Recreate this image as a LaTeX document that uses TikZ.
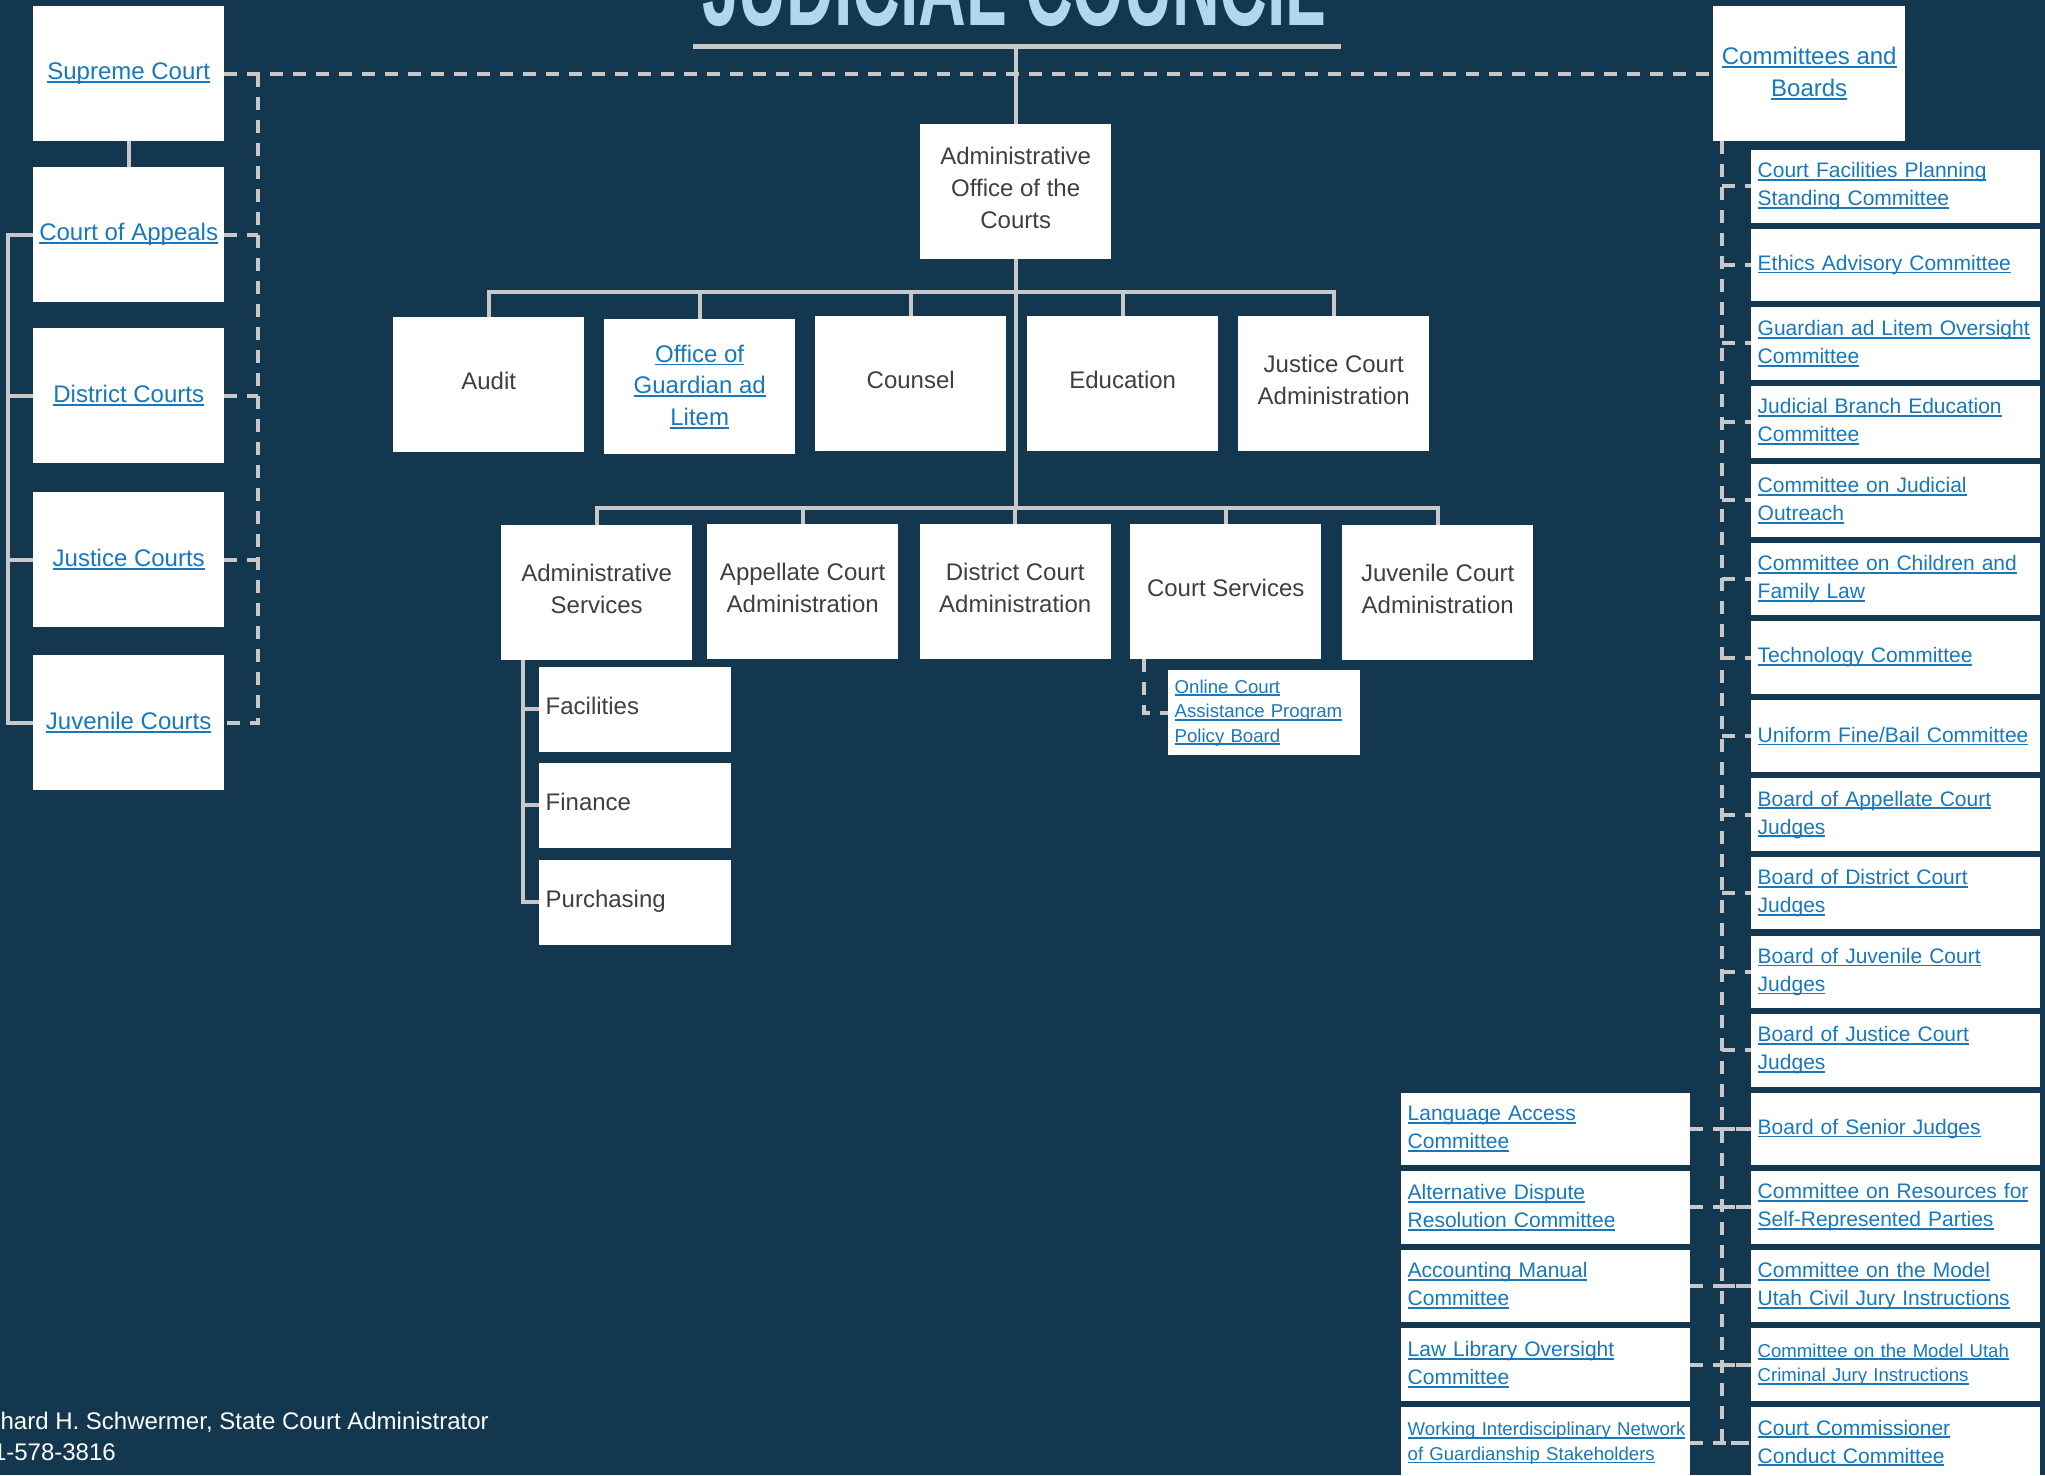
\documentclass[tikz,border=0pt]{standalone}
\usepackage{fontspec}
\setmainfont{Liberation Sans}
\usepackage{graphicx}
\definecolor{bg}{RGB}{18,55,79}
\definecolor{ln}{RGB}{200,200,200}
\definecolor{txt}{RGB}{58,64,72}
\definecolor{lnk}{RGB}{24,120,187}
\definecolor{ttl}{RGB}{178,214,238}
\newcommand\lk[1]{\leavevmode\setbox0=\hbox{#1}\rlap{\rule[-3.2pt]{\wd0}{1.8pt}}\box0}
\tikzset{
  wbox/.style={fill=white, inner sep=0pt, draw=none, anchor=north west},
  mbox/.style={wbox, minimum width=191pt, minimum height=135pt, align=center,
    font=\fontsize{24}{31.7}\selectfont, text=txt,
    execute at end node={\rule[-8pt]{0pt}{8pt}}},
  lbox/.style={wbox, minimum width=191pt, minimum height=135pt, align=center,
    font=\fontsize{24}{31.7}\selectfont, text=lnk,
    execute at end node={\rule[-3pt]{0pt}{3pt}}},
  cbox/.style={wbox, text width=276pt, inner xsep=6.5pt, inner ysep=0pt, minimum height=72.5pt,
    align=left, font=\fontsize{21}{28}\selectfont, text=lnk},
  csmall/.style={cbox, font=\fontsize{18.6}{24.5}\selectfont},
  sbox/.style={wbox, text width=179pt, inner xsep=6.5pt, inner ysep=0pt, minimum height=84.5pt,
    align=left, font=\fontsize{24}{31.7}\selectfont, text=txt,
    execute at end node={\rule[-8pt]{0pt}{8pt}}},
  sline/.style={draw=ln, line width=4pt},
  dline/.style={sline, dash pattern=on 13pt off 10pt},
}
\begin{document}
\begin{tikzpicture}[x=1pt,y=-1pt]
\fill[bg] (0,0) rectangle (2045,1475);
\useasboundingbox (0,0) rectangle (2045,1475);
\clip (0,0) rectangle (2045,1475);

% title
\node[anchor=base west, inner sep=0pt, text=ttl] (title) at (702,25)
  {\resizebox{624pt}{80pt}{\bfseries JUDICIAL COUNCIL}};
\coordinate (ul1) at (693,46);
\coordinate (ul2) at (1341,46);

% left column
\node[lbox] (sc)  at (33,6)   {\lk{Supreme Court}};
\node[lbox] (ca)  at (33,167) {\lk{Court of Appeals}};
\node[lbox] (dc)  at (33,328) {\lk{District Courts}};
\node[lbox] (jc)  at (33,492) {\lk{Justice Courts}};
\node[lbox] (juv) at (33,655) {\lk{Juvenile Courts}};

% AOC
\node[mbox] (aoc) at (920,124) {Administrative\\Office of the\\Courts};

% level 1
\node[mbox] (audit) at (393,317)  {Audit};
\node[lbox] (ogal)  at (604,319)  {\lk{Office of}\\\lk{Guardian ad}\\\lk{Litem}};
\node[mbox] (coun)  at (815,316)  {Counsel};
\node[mbox] (edu)   at (1027,316) {Education};
\node[mbox] (jca)   at (1238,316) {Justice Court\\Administration};

% level 2
\node[mbox] (as)   at (501,525)   {Administrative\\Services};
\node[mbox] (aca)  at (707,524)   {Appellate Court\\Administration};
\node[mbox] (dca)  at (919.5,524) {District Court\\Administration};
\node[mbox] (cs)   at (1130,524)  {Court Services};
\node[mbox] (jvca) at (1342,525)  {Juvenile Court\\Administration};

% admin services subs
\node[sbox] (fac) at (539,667) {Facilities};
\node[sbox] (fin) at (539,763) {Finance};
\node[sbox] (pur) at (539,860) {Purchasing};

% online court
\node[wbox, text width=179pt, inner xsep=6.5pt, inner ysep=0pt, minimum height=85pt, align=left,
  font=\fontsize{18.6}{24.5}\selectfont, text=lnk] (oc) at (1168,670)
  {\lk{Online Court}\\\lk{Assistance Program}\\\lk{Policy Board}};

% committees and boards
\node[lbox, minimum width=192pt] (cb) at (1713,6) {\lk{Committees and}\\\lk{Boards}};

\node[cbox] (r1)  at (1751,149.8)   {\lk{Court Facilities Planning}\\\lk{Standing Committee}};
\node[cbox] (r2)  at (1751,228.35)  {\lk{Ethics Advisory Committee}};
\node[cbox] (r3)  at (1751,306.9)   {\lk{Guardian ad Litem Oversight}\\\lk{Committee}};
\node[cbox] (r4)  at (1751,385.45)  {\lk{Judicial Branch Education}\\\lk{Committee}};
\node[cbox] (r5)  at (1751,464.0)   {\lk{Committee on Judicial}\\\lk{Outreach}};
\node[cbox] (r6)  at (1751,542.55)  {\lk{Committee on Children and}\\\lk{Family Law}};
\node[cbox] (r7)  at (1751,621.1)   {\lk{Technology Committee}};
\node[cbox] (r8)  at (1751,699.65)  {\lk{Uniform Fine/Bail Committee}};
\node[cbox] (r9)  at (1751,778.2)   {\lk{Board of Appellate Court}\\\lk{Judges}};
\node[cbox] (r10) at (1751,856.75)  {\lk{Board of District Court}\\\lk{Judges}};
\node[cbox] (r11) at (1751,935.3)   {\lk{Board of Juvenile Court}\\\lk{Judges}};
\node[cbox] (r12) at (1751,1013.85) {\lk{Board of Justice Court}\\\lk{Judges}};
\node[cbox] (r13) at (1751,1092.4)  {\lk{Board of Senior Judges}};
\node[cbox] (r14) at (1751,1170.95) {\lk{Committee on Resources for}\\\lk{Self-Represented Parties}};
\node[cbox] (r15) at (1751,1249.5)  {\lk{Committee on the Model}\\\lk{Utah Civil Jury Instructions}};
\node[csmall] (r16) at (1751,1328.05) {\lk{Committee on the Model Utah}\\\lk{Criminal Jury Instructions}};
\node[cbox] (r17) at (1751,1406.6)  {\lk{Court Commissioner}\\\lk{Conduct Committee}};

\node[cbox] (b13) at (1401,1092.4)  {\lk{Language Access}\\\lk{Committee}};
\node[cbox] (b14) at (1401,1170.95) {\lk{Alternative Dispute}\\\lk{Resolution Committee}};
\node[cbox] (b15) at (1401,1249.5)  {\lk{Accounting Manual}\\\lk{Committee}};
\node[cbox] (b16) at (1401,1328.05) {\lk{Law Library Oversight}\\\lk{Committee}};
\node[csmall] (b17) at (1401,1406.6) {\lk{Working Interdisciplinary Network}\\\lk{of Guardianship Stakeholders}};

% footer
\node[anchor=base east, inner sep=0pt, text=white, font=\fontsize{24}{24}\selectfont] (f1) at (489,1429)
  {Richard H. Schwermer, State Court Administrator};
\node[anchor=base east, inner sep=0pt, text=white, font=\fontsize{24}{24}\selectfont] (f2) at (116,1460)
  {801-578-3816};

% ---------- connectors ----------
\draw[sline, line width=5pt] (ul1) -- (ul2);
\draw[sline] (aoc.north) -- (aoc.north |- ul1);

\coordinate (bus1) at (0,292);
\coordinate (bus2) at (0,508);
\draw[sline] (aoc.south) -- (aoc.south |- bus2);
\draw[sline] (audit.north) |- (jca.north |- bus1) -- (jca.north);
\foreach \n in {ogal,coun,edu} \draw[sline] (\n.north) -- (\n.north |- bus1);
\draw[sline] (as.north) |- (jvca.north |- bus2) -- (jvca.north);
\foreach \n in {aca,dca,cs} \draw[sline] (\n.north) -- (\n.north |- bus2);

\coordinate (sx) at (523,0);
\draw[sline] (as.south -| sx) |- (pur.west);
\draw[sline] (fac.west -| sx) -- (fac.west);
\draw[sline] (fin.west -| sx) -- (fin.west);

\coordinate (ox) at (1144,0);
\draw[dline] (cs.south -| ox) |- (oc.west);

% left solid
\coordinate (lsx) at (8,0);
\draw[sline] (sc.south) -- (ca.north);
\draw[sline] (ca.west) -- (ca.west -| lsx) |- (juv.west);
\draw[sline] (dc.west) -- (dc.west -| lsx);
\draw[sline] (jc.west) -- (jc.west -| lsx);

% left dashed
\coordinate (lvx) at (258,0);
\draw[dline] (sc.east) -- (cb.west);
\draw[dline] (sc.east -| lvx) |- (juv.east);
\foreach \n in {ca,dc,jc} \draw[dline] (\n.east) -- (\n.east -| lvx);

% right dashed
\coordinate (rvx) at (1722,0);
\draw[dline] (cb.south -| rvx) |- (r17.west);
\foreach \i in {1,...,16} \draw[dline] (r\i.west -| rvx) -- (r\i.west);
\foreach \i in {13,...,17} \draw[dline] (b\i.east) -- (r\i.west);
\end{tikzpicture}
\end{document}
